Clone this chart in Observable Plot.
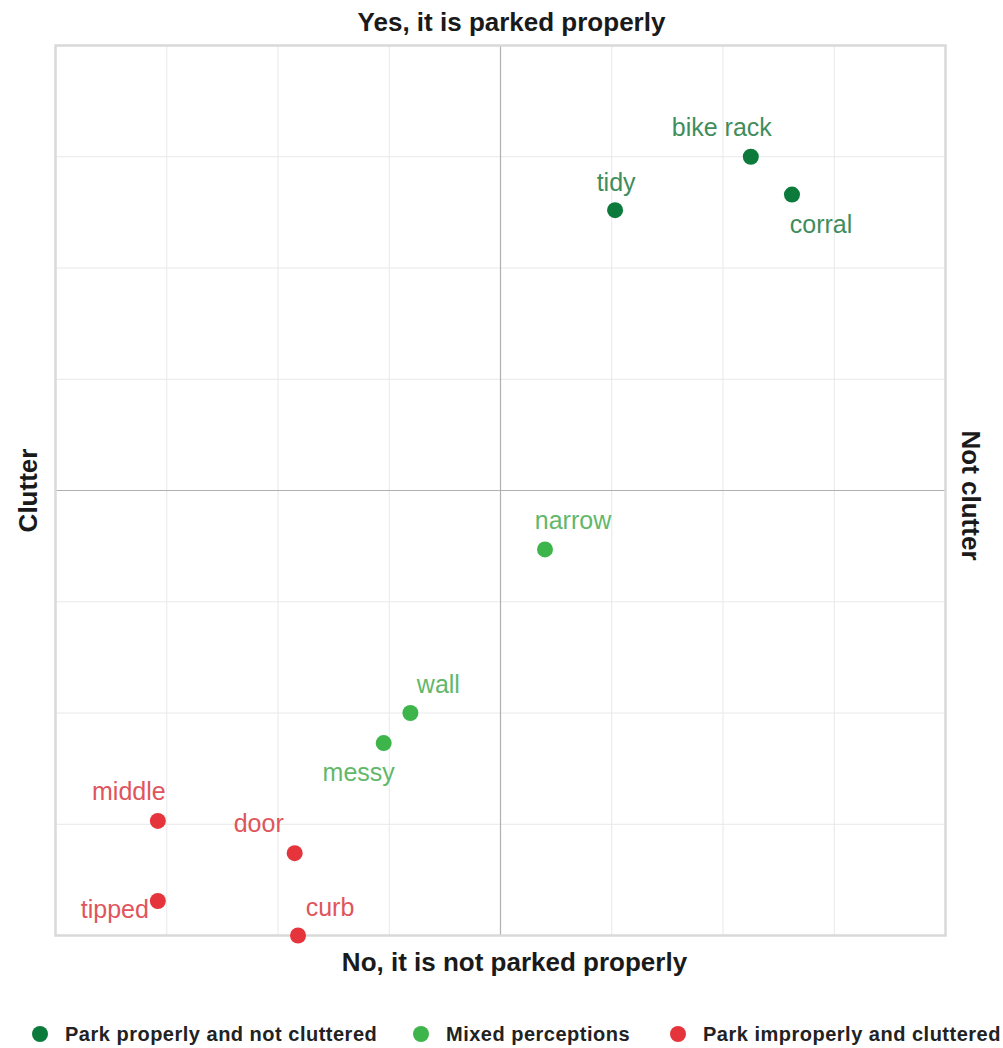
<!DOCTYPE html>
<html>
<head>
<meta charset="utf-8">
<script src="https://cdn.jsdelivr.net/npm/d3@7"></script>
<script src="https://cdn.jsdelivr.net/npm/@observablehq/plot@0.6"></script>
<style>
  body { margin: 0; background: #fff; font-family: "Liberation Sans", Arial, sans-serif; }
  #legend { position: relative; height: 40px; margin-top: 24px; font-size: 20px; font-weight: bold; letter-spacing: 0.5px; color: #222; white-space: nowrap; }
  .item { position: absolute; top: 0; height: 40px; display: flex; align-items: center; }
  .sw { width: 16px; height: 16px; border-radius: 50%; display: inline-block; margin-right: 17px; flex: none; }
</style>
</head>
<body>
<div id="chart"></div>
<div id="legend"></div>
<script>
const labels = ["bike rack", "corral", "tidy", "narrow", "wall", "messy", "middle", "door", "tipped", "curb"];
const xValues = [2.25, 2.62, 1.03, 0.40, -0.81, -1.05, -3.08, -1.85, -3.08, -1.82];
const yValues = [3.0, 2.66, 2.52, -0.53, -2.0, -2.27, -2.97, -3.26, -3.69, -4.0];
const groups = ["Park properly and not cluttered", "Park properly and not cluttered", "Park properly and not cluttered",
  "Mixed perceptions", "Mixed perceptions", "Mixed perceptions",
  "Park improperly and cluttered", "Park improperly and cluttered", "Park improperly and cluttered", "Park improperly and cluttered"];
const labelPlacement = ["above-left", "below-right", "above", "above-right", "above-right", "below-left", "above-left", "above-left2", "left", "above-right2"];
const groupNames = ["Park properly and not cluttered", "Mixed perceptions", "Park improperly and cluttered"];
const groupColors = ["#0b7a3b", "#3db54a", "#e5343b"];
const labelColors = ["#3f8d5c", "#62b86a", "#e0555c"];
const gridTicks = [-4, -3, -2, -1, 0, 1, 2, 3, 4];

const data = labels.map((l, i) => ({label: l, x: xValues[i], y: yValues[i], group: groups[i], place: labelPlacement[i]}));
const lc = g => labelColors[groupNames.indexOf(g)];
const offsets = {
  "above-left": [-29, -29], "above-left2": [-36, -29], "below-right": [29, 30], "above": [1, -27],
  "above-right": [28, -28], "above-right2": [32, -28],
  "below-left": [-25, 30], "left": [-9, 9]
};
const textMarks = Object.entries(offsets).map(([p, [dx, dy]]) =>
  Plot.text(data.filter(d => d.place === p), {
    x: "x", y: "y", text: "label", dx, dy,
    fill: d => lc(d.group),
    textAnchor: p === "left" ? "end" : "middle",
    fontSize: 25
  }));

const axisTitle = {fontSize: 26, fill: "#1a1a1a", fontWeight: "bold", lineAnchor: "middle", textAnchor: "middle"};
const chart = Plot.plot({
  width: 1003, height: 990,
  marginLeft: 55, marginRight: 58, marginTop: 45, marginBottom: 55,
  style: {fontFamily: "'Liberation Sans', Arial, sans-serif", background: "#fff"},
  x: {domain: [-4, 4], axis: null},
  y: {domain: [-4, 4], axis: null},
  color: {domain: groupNames, range: groupColors},
  marks: [
    Plot.ruleX(gridTicks, {stroke: "#e8e8e8", strokeWidth: 1}),
    Plot.ruleY(gridTicks, {stroke: "#e8e8e8", strokeWidth: 1}),
    Plot.ruleX([0], {stroke: "#b0b0b0", strokeWidth: 1.2}),
    Plot.ruleY([0], {stroke: "#b0b0b0", strokeWidth: 1.2}),
    Plot.frame({stroke: "#d9d9d9", strokeWidth: 2.5}),
    Plot.dot(data, {x: "x", y: "y", fill: "group", r: 8, clip: false}),
    ...textMarks,
    Plot.text(["Yes, it is parked properly"], {frameAnchor: "top", dy: -23, dx: 11, ...axisTitle}),
    Plot.text(["No, it is not parked properly"], {frameAnchor: "bottom", dy: 27, dx: 14, ...axisTitle}),
    Plot.text(["Clutter"], {frameAnchor: "left", dx: -27, rotate: -90, ...axisTitle}),
    Plot.text(["Not clutter"], {frameAnchor: "right", dx: 25, dy: 5, rotate: 90, ...axisTitle})
  ]
});
document.getElementById("chart").appendChild(chart);

const legendLeft = [32, 413, 670];
const legend = d3.select("#legend");
groupNames.forEach((g, i) => {
  const it = legend.append("div").attr("class", "item").style("left", legendLeft[i] + "px");
  it.append("span").attr("class", "sw").style("background", groupColors[i]);
  it.append("span").text(g);
});
</script>
</body>
</html>
